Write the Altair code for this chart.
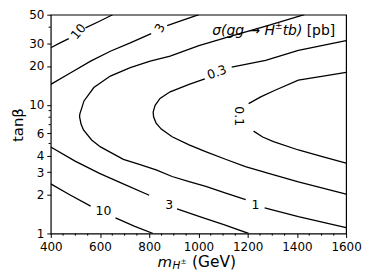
import altair as alt
import pandas as pd

# ---- contour pieces: (m_H± [GeV], tanβ) ----
c10_up_a_m = [400, 436, 473]
c10_up_a_t = [27.7, 30.1, 32.6]
c10_up_b_m = [541, 598, 651]
c10_up_b_t = [39.5, 44.5, 50.0]

c3_up_a_m = [400, 481, 562, 642, 723, 808]
c3_up_a_t = [14.4, 17.7, 21.8, 26.0, 30.2, 35.7]
c3_up_b_m = [873, 937, 1002]
c3_up_b_t = [41.1, 45.3, 50.0]

c1_a_m = [1430, 1285, 1143, 1002, 885, 804, 723, 642, 575, 535, 518, 517, 523, 533,
          566, 602, 695, 760, 828, 893, 962, 1030, 1111, 1192]
c1_a_t = [50.0, 41.4, 34.5, 28.8, 23.8, 21.8, 19.4, 16.7, 13.6, 10.7, 8.45, 8.08, 7.07, 6.36,
          5.32, 4.70, 3.76, 3.44, 3.12, 2.77, 2.53, 2.32, 2.06, 1.83]
c1_b_m = [1269, 1406, 1600]
c1_b_t = [1.58, 1.35, 1.11]

c03_a_m = [1026, 962, 885, 844, 824, 816, 818, 828, 849, 893, 962, 1029, 1110, 1191, 1285, 1406, 1600]
c03_a_t = [15.9, 14.4, 12.6, 11.2, 9.9, 8.75, 8.01, 7.20, 6.47, 5.64, 4.87, 4.32, 3.77, 3.31, 2.93, 2.52, 2.02]
c03_b_m = [1135, 1273, 1406, 1600]
c03_b_t = [19.6, 22.1, 26.4, 31.5]

c01_up_m = [1204, 1253, 1309, 1406, 1507, 1600]
c01_up_t = [10.2, 11.5, 12.9, 15.5, 16.7, 17.8]
c01_lo_m = [1224, 1261, 1305, 1406, 1507, 1600]
c01_lo_t = [6.24, 5.61, 5.16, 4.45, 3.93, 3.52]

c3_lo_a_m = [400, 497, 598, 699, 800]
c3_lo_a_t = [4.70, 3.66, 2.93, 2.41, 1.98]
c3_lo_b_m = [913, 1002, 1103, 1204]
c3_lo_b_t = [1.55, 1.36, 1.17, 1.0]

c10_lo_a_m = [400, 477, 562]
c10_lo_a_t = [2.43, 2.00, 1.63]
c10_lo_b_m = [663, 739, 816]
c10_lo_b_t = [1.32, 1.14, 1.0]

# contour labels
label_text = ["10", "3", "0.3", "0.1", "10", "3", "1"]
label_m = [513, 844, 1075, 1164, 614, 881, 1232]
label_t = [36.9, 39.3, 17.8, 8.15, 1.50, 1.65, 1.67]
label_angle = [310, 300, 340, 90, 0, 0, 0]

# ticks
x_major = [400, 600, 800, 1000, 1200, 1400, 1600]
x_minor = [450, 500, 550, 650, 700, 750, 850, 900, 950, 1050, 1100, 1150,
           1250, 1300, 1350, 1450, 1500, 1550]
y_major = [1, 2, 3, 4, 6, 10, 20, 30, 50]
y_minor = [5, 7, 8, 9, 40]

pieces = [
    ("10u_a", c10_up_a_m, c10_up_a_t), ("10u_b", c10_up_b_m, c10_up_b_t),
    ("3u_a", c3_up_a_m, c3_up_a_t), ("3u_b", c3_up_b_m, c3_up_b_t),
    ("1_a", c1_a_m, c1_a_t), ("1_b", c1_b_m, c1_b_t),
    ("03_a", c03_a_m, c03_a_t), ("03_b", c03_b_m, c03_b_t),
    ("01_u", c01_up_m, c01_up_t), ("01_l", c01_lo_m, c01_lo_t),
    ("3l_a", c3_lo_a_m, c3_lo_a_t), ("3l_b", c3_lo_b_m, c3_lo_b_t),
    ("10l_a", c10_lo_a_m, c10_lo_a_t), ("10l_b", c10_lo_b_m, c10_lo_b_t),
]
rows = []
for seg, ms, ts in pieces:
    for i, (m, t) in enumerate(zip(ms, ts)):
        rows.append({"seg": seg, "i": i, "m": m, "t": t})
lines_df = pd.DataFrame(rows)
labels_df = pd.DataFrame({"m": label_m, "t": label_t, "txt": label_text, "a": label_angle})

FONT = "DejaVu Sans"
W, H = 297, 220
xscale = alt.Scale(domain=[400, 1600], nice=False, zero=False)
yscale = alt.Scale(type="log", domain=[1, 50], nice=False)


def xaxis():
    return alt.Axis(values=x_major, title=None, grid=False, domain=False, tickSize=4,
                    tickColor="black", tickWidth=1, labelFontSize=12, labelFont=FONT,
                    labelColor="black", labelPadding=4, format="d", labelFlush=False,
                    labelOverlap=False)


def yaxis():
    return alt.Axis(values=y_major, title=None, grid=False, domain=False, tickSize=4,
                    tickColor="black", tickWidth=1, labelFontSize=12, labelFont=FONT,
                    labelColor="black", labelPadding=3, format="d", labelFlush=False,
                    labelOverlap=False)


lines = alt.Chart(lines_df).mark_line(color="black", strokeWidth=1.3, clip=True).encode(
    x=alt.X("m:Q", scale=xscale, axis=xaxis()),
    y=alt.Y("t:Q", scale=yscale, axis=yaxis()),
    detail="seg:N",
    order="i:Q",
)

labels = alt.Chart(labels_df).mark_text(font=FONT, fontSize=12.5, color="black",
                                         align="center", baseline="middle").encode(
    x=alt.X("m:Q", scale=xscale, axis=xaxis()),
    y=alt.Y("t:Q", scale=yscale, axis=yaxis()),
    text="txt:N",
    angle=alt.Angle("a:Q", scale=None),
)

xminor = alt.Chart(pd.DataFrame({"m": x_minor})).mark_rule(color="black", strokeWidth=1).encode(
    x=alt.X("m:Q", scale=xscale, axis=xaxis()), y=alt.value(H), y2=alt.value(H + 2.2))
yminor = alt.Chart(pd.DataFrame({"t": y_minor})).mark_rule(color="black", strokeWidth=1).encode(
    y=alt.Y("t:Q", scale=yscale, axis=yaxis()), x=alt.value(-2.2), x2=alt.value(0))

one = pd.DataFrame({"k": [0]})


def txt(s, x, y, size, style="normal", align="left", angle=0):
    kw = dict(font=FONT, fontSize=size, color="black", align=align, baseline="middle",
              fontStyle=style, text=s)
    if angle:
        kw["angle"] = angle
    return alt.Chart(one).mark_text(**kw).encode(x=alt.value(x), y=alt.value(y))


# in-plot title  σ(gg→H±tb) [pb]
title_parts = [
    txt("[pb]", 286, 16, 14, align="right"),
    txt("tb)", 253, 16, 14, style="italic", align="right"),
    txt("±", 233, 11, 9, style="italic", align="right"),
    txt("σ(gg → H", 225.5, 16, 14, style="italic", align="right"),
]
# x axis title  m_{H±} (GeV)
xtitle = [
    txt("m", 122, 249, 15, style="italic", align="right"),
    txt("H", 122.5, 253, 10.5, style="italic"),
    txt("±", 130.5, 249, 7.5),
    txt("(GeV)", 142, 249, 15.5),
]
ytitle = [txt("tanβ", -33, 111, 15, align="center", angle=270)]

chart = alt.layer(lines, labels, xminor, yminor, *title_parts, *xtitle, *ytitle).properties(
    width=W, height=H,
    autosize=alt.AutoSizeParams(type="none"),
    padding={"left": 43, "top": 6, "right": 20, "bottom": 40},
).configure_view(stroke="black", strokeWidth=1.2)

chart.save("out.html", embed_options={"renderer": "svg", "actions": False})
